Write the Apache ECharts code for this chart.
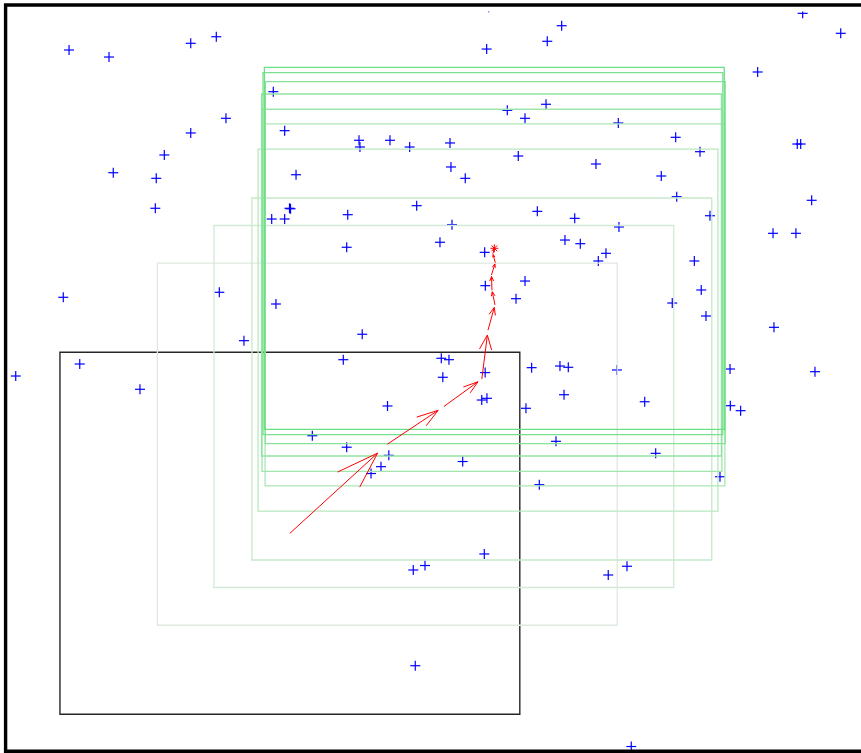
<!DOCTYPE html>
<html>
<head>
<meta charset="utf-8">
<script src="https://cdn.jsdelivr.net/npm/echarts@6/dist/echarts.min.js"></script>
<style>
html,body{margin:0;padding:0;background:#ffffff;}
#chart{width:861px;height:753px;}
</style>
</head>
<body>
<div id="chart"></div>
<script>
// ---- data (square domain 0..100; only x <= 90.34 is inside the picture) ----
const sampleX = [
  6.71, 10.93, 19.56, 22.26, 28.28, 23.28, 19.56, 16.77, 11.38, 15.92,
  15.82, 29.48, 37.33, 37.43, 40.60, 42.68, 30.68, 29.99, 30.10, 28.11,
  29.48, 36.14, 43.42, 36.03, 6.10, 22.58, 28.56, 25.18, 37.67, 35.67,
  7.84, 1.08, 14.20, 40.34, 32.40, 36.03, 40.48, 39.65, 38.60, 43.06,
  44.30, 43.27, 58.73, 57.21, 50.81, 84.18, 88.20, 79.43, 52.99, 57.08,
  54.86, 64.71, 70.77, 83.61, 83.97, 46.94, 54.15, 47.04, 48.55, 62.35,
  73.34, 69.25, 70.88, 85.13, 74.39, 56.16, 60.11, 47.15, 64.78, 45.88,
  59.08, 60.70, 81.05, 83.47, 50.60, 63.41, 62.60, 72.74, 54.86, 53.91,
  50.67, 73.47, 70.41, 73.97, 81.15, 46.02, 46.83, 46.18, 50.65, 55.56,
  58.55, 59.43, 64.57, 76.51, 85.48, 50.29, 50.84, 54.96, 58.98, 67.50,
  76.54, 77.63, 58.13, 68.66, 48.28, 56.37, 75.45, 50.56, 63.65, 65.63,
  66.08, 51.02
];
const sampleY = [
  94.03, 93.09, 94.93, 95.81, 88.44, 84.87, 82.90, 79.95, 77.57, 76.82,
  72.80, 83.21, 81.92, 81.02, 81.92, 81.02, 77.30, 72.80, 72.73, 71.36,
  71.36, 71.94, 73.15, 67.57, 60.86, 61.53, 59.96, 55.04, 55.90, 52.49,
  51.91, 50.30, 48.52, 46.28, 42.29, 40.75, 39.66, 38.14, 37.22, 24.28,
  24.88, 11.44, 97.29, 95.20, 94.16, 98.95, 96.27, 91.08, 85.94, 86.75,
  84.87, 84.24, 82.32, 81.42, 81.42, 81.56, 79.81, 78.34, 76.82, 78.74,
  80.39, 77.13, 74.35, 73.87, 71.80, 72.39, 71.45, 70.60, 70.29, 68.24,
  68.54, 68.05, 69.44, 69.44, 66.89, 66.76, 65.73, 65.73, 63.04, 60.67,
  62.42, 61.84, 60.09, 58.35, 56.83, 52.68, 52.49, 50.13, 50.76, 51.42,
  51.64, 51.47, 51.11, 51.24, 50.88, 47.08, 47.31, 45.97, 47.79, 46.85,
  46.32, 45.65, 41.54, 39.93, 38.83, 35.72, 36.79, 26.43, 23.61, 24.78,
  0.60, 99.76
];
// search path (box centres), start -> best
const pathX = [30.03, 40.32, 46.29, 50.30, 50.95, 51.69, 51.37, 51.32, 51.72, 51.47, 51.62];
const pathY = [29.20, 41.15, 46.21, 49.90, 56.45, 59.84, 61.80, 63.85, 65.50, 66.71, 67.43];
const boxHalfSize = 24.28;
const quiverScale = 0.9;
const xVisibleMax = 90.34;

// ---- styles ----
const boxColors = ['#262626', '#dfe9df', '#d3e9d5', '#c6e9cb', '#b9e8c1', '#ace6b6',
                   '#9fe5ac', '#92e3a2', '#85e298', '#78e08e', '#6bdf84'];
const markerClipY = 99.2;

const chart = echarts.init(document.getElementById('chart'), null, {renderer: 'canvas'});

const plusData = sampleX.map((x, i) => [x, sampleY[i]]);
const boxData = pathX.map((x, i) => [x, pathY[i], i]);
const arrowData = pathX.slice(0, -1).map((x, i) => [x, pathY[i], pathX[i + 1], pathY[i + 1]]);
const last = pathX.length - 1;

const option = {
  animation: false,
  backgroundColor: '#ffffff',
  grid: {left: 5.5, top: 5.5, width: 855.5, height: 745.5, show: false},
  xAxis: {type: 'value', min: 0, max: xVisibleMax, show: false},
  yAxis: {type: 'value', min: 0, max: 100, show: false},
  graphic: [{
    type: 'rect', z: 100, silent: true,
    shape: {x: 5.6, y: 5, width: 1000, height: 746.3},
    style: {fill: 'none', stroke: '#000000', lineWidth: 3.4}
  }],
  series: [
    {
      type: 'custom', name: 'samples', z: 2,
      data: plusData,
      renderItem: function (params, api) {
        const p = api.coord([api.value(0), api.value(1)]);
        const clipTop = api.coord([0, markerClipY])[1];
        const r = 5;
        const st = {stroke: '#0000ff', lineWidth: 1.2};
        const ch = [];
        if (p[1] >= clipTop) {
          ch.push({type: 'line', shape: {x1: p[0] - r, y1: p[1], x2: p[0] + r, y2: p[1]}, style: st});
        }
        const y1 = Math.max(p[1] - r, clipTop), y2 = p[1] + r;
        if (y2 > y1) {
          ch.push({type: 'line', shape: {x1: p[0], y1: y1, x2: p[0], y2: y2}, style: st});
        }
        return {type: 'group', children: ch};
      }
    },
    {
      type: 'custom', name: 'boxes', z: 3,
      data: boxData,
      renderItem: function (params, api) {
        const cx = api.value(0), cy = api.value(1), k = api.value(2);
        const a = api.coord([cx - boxHalfSize, cy + boxHalfSize]);
        const b = api.coord([cx + boxHalfSize, cy - boxHalfSize]);
        return {
          type: 'rect',
          shape: {x: a[0], y: a[1], width: b[0] - a[0], height: b[1] - a[1]},
          style: {fill: 'none', stroke: boxColors[k], lineWidth: k === 0 ? 1.4 : 1.3}
        };
      }
    },
    {
      type: 'custom', name: 'steps', z: 4,
      data: arrowData,
      renderItem: function (params, api) {
        const x = api.value(0), y = api.value(1);
        const u = (api.value(2) - x) * quiverScale;
        const v = (api.value(3) - y) * quiverScale;
        const alpha = 0.33, beta = 0.33;
        const tip = [x + u, y + v];
        const h1 = [x + u - alpha * (u + beta * v), y + v - alpha * (v - beta * u)];
        const h2 = [x + u - alpha * (u - beta * v), y + v - alpha * (v + beta * u)];
        const st = {stroke: '#ff0000', lineWidth: 1, fill: 'none'};
        return {
          type: 'group',
          children: [
            {type: 'polyline', shape: {points: [api.coord([x, y]), api.coord(tip)]}, style: st},
            {type: 'polyline', shape: {points: [api.coord(h1), api.coord(tip), api.coord(h2)]}, style: st}
          ]
        };
      }
    },
    {
      type: 'custom', name: 'best', z: 5,
      data: [[pathX[last], pathY[last]]],
      renderItem: function (params, api) {
        const p = api.coord([api.value(0), api.value(1)]);
        const r = 4, d = 2.9;
        const st = {stroke: '#ff0000', lineWidth: 1};
        return {
          type: 'group',
          children: [
            {type: 'line', shape: {x1: p[0] - r, y1: p[1], x2: p[0] + r, y2: p[1]}, style: st},
            {type: 'line', shape: {x1: p[0], y1: p[1] - r, x2: p[0], y2: p[1] + r}, style: st},
            {type: 'line', shape: {x1: p[0] - d, y1: p[1] - d, x2: p[0] + d, y2: p[1] + d}, style: st},
            {type: 'line', shape: {x1: p[0] - d, y1: p[1] + d, x2: p[0] + d, y2: p[1] - d}, style: st}
          ]
        };
      }
    }
  ]
};
chart.setOption(option);
</script>
</body>
</html>
